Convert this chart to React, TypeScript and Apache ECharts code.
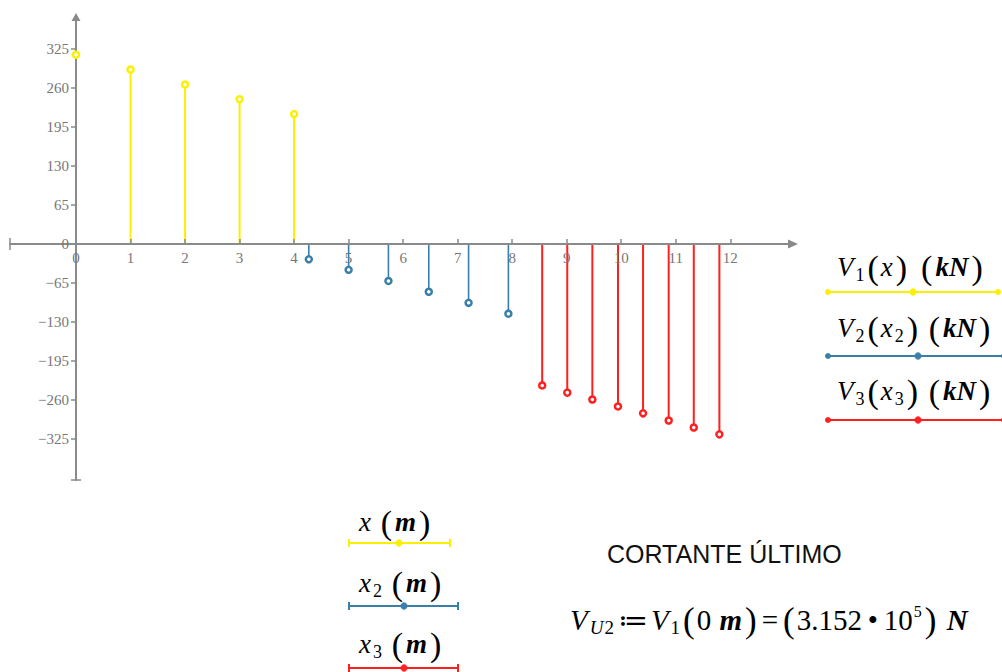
import React, { useEffect, useRef } from "react";
import * as echarts from "echarts";

// ---- data ----
const v1X = [0, 1, 2, 3, 4];
const v1Y = [315.2, 290.5, 265.7, 241, 216.3];
const v2X = [4.27, 5.0, 5.73, 6.47, 7.2, 7.93];
const v2Y = [-25.5, -43, -61.5, -79.5, -98, -116];
const v3X = [8.55, 9.01, 9.47, 9.94, 10.4, 10.87, 11.33, 11.8];
const v3Y = [-235.5, -247.5, -259, -270.5, -282, -294, -305.5, -317];
const xTicks = [0, 1, 2, 3, 4, 5, 6, 7, 8, 9, 10, 11, 12];
const yTicks = [-325, -260, -195, -130, -65, 0, 65, 130, 195, 260, 325];

const X_MIN = -1.2105;
const X_MAX = 13.15;
const Y_MIN = -393;
const Y_MAX = 378;

const GRID_LEFT = 10;
const GRID_TOP = 17;
const GRID_W = 783;
const GRID_H = 463;

const YELLOW = "#fbf000";
const BLUE = "#3a7fa8";
const RED = "#ff1f1f";
const AXIS = "#8a8a8a";
const LABEL = "#777777";
const NAVY = "#24249c";
const SERIF = "'Liberation Serif', 'DejaVu Serif', serif";

const pairs = (xs: number[], ys: number[]) => xs.map((x, i) => [x, ys[i]]);

const stemSeries = (name: string, xs: number[], ys: number[], color: string, w: number) => ({
  name: name + "-stem",
  type: "custom",
  z: 1,
  clip: false,
  data: pairs(xs, ys),
  encode: { x: 0, y: 1 },
  renderItem: (_p: any, api: any) => {
    const x = api.value(0);
    const y = api.value(1);
    const a = api.coord([x, 0]);
    const b = api.coord([x, y]);
    return {
      type: "line",
      shape: { x1: a[0], y1: a[1], x2: b[0], y2: b[1] },
      style: { stroke: color, lineWidth: w },
    };
  },
});

const markerSeries = (name: string, xs: number[], ys: number[], color: string) => ({
  name,
  type: "scatter",
  z: 6,
  data: pairs(xs, ys),
  symbol: "circle",
  symbolSize: 6,
  itemStyle: { color: "#ffffff", borderColor: color, borderWidth: 2.5, opacity: 1 },
});

const mkRich = (fs: number, pfs: number, sfs: number) => ({
  v: { fontFamily: SERIF, fontStyle: "italic", fontSize: fs, color: "#111", lineHeight: 34, padding: [0, 1, 0, 0] },
  r: { fontFamily: SERIF, fontSize: fs, color: "#111", lineHeight: 34 },
  eq: { fontFamily: SERIF, fontSize: fs, color: "#111", lineHeight: 34, padding: [0, 3, 0, 3] },
  sub: { fontFamily: SERIF, fontSize: sfs, color: "#111", lineHeight: sfs + 2, verticalAlign: "bottom", padding: [0, 1, 0, 1] },
  subi: { fontFamily: SERIF, fontStyle: "italic", fontSize: sfs, color: "#111", lineHeight: sfs + 2, verticalAlign: "bottom", padding: [0, 0, 0, 1] },
  sup: { fontFamily: SERIF, fontSize: sfs - 3, color: "#111", lineHeight: sfs + 4, verticalAlign: "top", padding: [0, 1, 0, 1] },
  p: { fontFamily: SERIF, fontSize: pfs, color: "#111", lineHeight: 34, padding: [0, 2, 0, 2] },
  u: { fontFamily: SERIF, fontStyle: "italic", fontWeight: "bold", fontSize: fs, color: NAVY, lineHeight: 34, padding: [0, 1, 0, 1] },
});

const legendRich = mkRich(27, 34, 18);
const formulaRich = mkRich(29, 35, 19);

const richText = (x: number, y: number, text: string, rich: any) => ({
  type: "text",
  x,
  y,
  style: { text, rich, verticalAlign: "middle", align: "left" },
});

const legendLine = (x1: number, x2: number, y: number, mid: number, color: string, bars: boolean) => {
  const els: any[] = [
    { type: "line", shape: { x1, y1: y, x2, y2: y }, style: { stroke: color, lineWidth: 2 } },
    { type: "circle", shape: { cx: mid, cy: y, r: 3.2 }, style: { fill: color, stroke: color, lineWidth: 1 } },
  ];
  if (bars) {
    els.push({ type: "line", shape: { x1, y1: y - 4, x2: x1, y2: y + 4 }, style: { stroke: color, lineWidth: 2 } });
    els.push({ type: "line", shape: { x1: x2, y1: y - 4, x2, y2: y + 4 }, style: { stroke: color, lineWidth: 2 } });
  } else {
    els.push({ type: "circle", shape: { cx: x1, cy: y, r: 3 }, style: { fill: color } });
    els.push({ type: "circle", shape: { cx: x2, cy: y, r: 3 }, style: { fill: color } });
  }
  return { type: "group", children: els };
};

export default function App() {
  const ref = useRef<HTMLDivElement>(null);
  useEffect(() => {
    if (!ref.current) return;
    const chart = echarts.init(ref.current, null, { renderer: "svg" });
    // distance from grid edges to the zero lines (axes cross at the origin)
    const zeroFromLeft = ((0 - X_MIN) / (X_MAX - X_MIN)) * GRID_W;
    const zeroFromBottom = ((0 - Y_MIN) / (Y_MAX - Y_MIN)) * GRID_H;
    const graphic: any[] = [
      richText(837, 267, "{v|V}{sub|1}{p|(}{v|x}{p|)}   {p|(}{u|kN}{p|)}", legendRich),
      legendLine(828, 998, 292, 913, YELLOW, false),
      richText(837, 328, "{v|V}{sub|2}{p|(}{v|x}{sub|2}{p|)}  {p|(}{u|kN}{p|)}", legendRich),
      legendLine(828, 1004, 356, 918, BLUE, false),
      richText(837, 391, "{v|V}{sub|3}{p|(}{v|x}{sub|3}{p|)}  {p|(}{u|kN}{p|)}", legendRich),
      legendLine(828, 1004, 420, 918, RED, false),
      richText(359, 522, "{v|x}  {p|(}{u|m}{p|)}", legendRich),
      legendLine(349, 450, 543, 399, YELLOW, true),
      richText(359, 583, "{v|x}{sub|2}  {p|(}{u|m}{p|)}", legendRich),
      legendLine(349, 458, 606, 404, BLUE, true),
      richText(359, 644, "{v|x}{sub|3}  {p|(}{u|m}{p|)}", legendRich),
      legendLine(349, 458, 668, 404, RED, true),
      {
        type: "text",
        x: 607,
        y: 554,
        style: {
          text: "CORTANTE ÚLTIMO",
          fontFamily: "'Liberation Sans Narrow', 'Arial Narrow', 'Liberation Sans', sans-serif",
          fontSize: 25,
          fill: "#111",
          verticalAlign: "middle",
          align: "left",
        },
      },
      richText(
        570,
        620,
        "{v|V}{subi|U}{sub|2}{eq|\u2254}{v|V}{sub|1}{p|(}{r|0 }{u|m}{p|)}{eq|=}{p|(}{r|3.152\u2009\u2022\u200910}{sup|5}{p|)}{r| }{u|N}",
        formulaRich
      ),
    ];
    const option: any = {
      animation: false,
      backgroundColor: "#ffffff",
      grid: {
        left: GRID_LEFT,
        top: GRID_TOP,
        width: GRID_W,
        height: GRID_H,
        containLabel: false,
        outerBoundsMode: "none",
      },
      xAxis: {
        type: "value",
        min: X_MIN,
        max: X_MAX,
        z: 4,
        position: "bottom",
        offset: -zeroFromBottom,
        axisLine: {
          onZero: false,
          lineStyle: { color: AXIS, width: 2 },
          symbol: ["none", "triangle"],
          symbolSize: [9, 10],
        },
        axisTick: { show: true, inside: true, length: 5, customValues: xTicks, lineStyle: { color: AXIS, width: 1.5 } },
        axisLabel: {
          customValues: xTicks,
          margin: 7,
          color: LABEL,
          fontFamily: SERIF,
          fontSize: 15,
        },
        splitLine: { show: false },
      },
      yAxis: {
        type: "value",
        min: Y_MIN,
        max: Y_MAX,
        z: 4,
        position: "left",
        offset: -zeroFromLeft,
        axisLine: {
          onZero: false,
          lineStyle: { color: AXIS, width: 2 },
          symbol: ["none", "triangle"],
          symbolSize: [9, 8],
        },
        axisTick: { show: true, length: 5, customValues: yTicks, lineStyle: { color: AXIS, width: 1.5 } },
        axisLabel: {
          customValues: yTicks,
          margin: 7,
          color: LABEL,
          fontFamily: SERIF,
          fontSize: 15,
          formatter: (v: number) => String(v).replace("-", "\u2212"),
        },
        splitLine: { show: false },
      },
      series: [
        stemSeries("V1", v1X, v1Y, YELLOW, 2),
        stemSeries("V2", v2X, v2Y, BLUE, 1.6),
        stemSeries("V3", v3X, v3Y, RED, 2),
        markerSeries("V1", v1X, v1Y, YELLOW),
        markerSeries("V2", v2X, v2Y, BLUE),
        markerSeries("V3", v3X, v3Y, RED),
      ],
      graphic,
    };
    chart.setOption(option);
    // end bars of the axes
    const left = chart.convertToPixel({ gridIndex: 0 }, [X_MIN, 0]) as number[];
    const bottom = chart.convertToPixel({ gridIndex: 0 }, [0, Y_MIN]) as number[];
    chart.setOption({
      graphic: [
        ...graphic,
        { type: "line", shape: { x1: left[0], y1: left[1] - 6, x2: left[0], y2: left[1] + 6 }, style: { stroke: AXIS, lineWidth: 1.5 } },
        { type: "line", shape: { x1: bottom[0] - 5, y1: bottom[1], x2: bottom[0] + 5, y2: bottom[1] }, style: { stroke: AXIS, lineWidth: 1.5 } },
      ],
    });
    return () => chart.dispose();
  }, []);
  return (
    <div
      ref={ref}
      style={{ position: "fixed", left: 0, top: 0, width: 1002, height: 672 }}
    />
  );
}
